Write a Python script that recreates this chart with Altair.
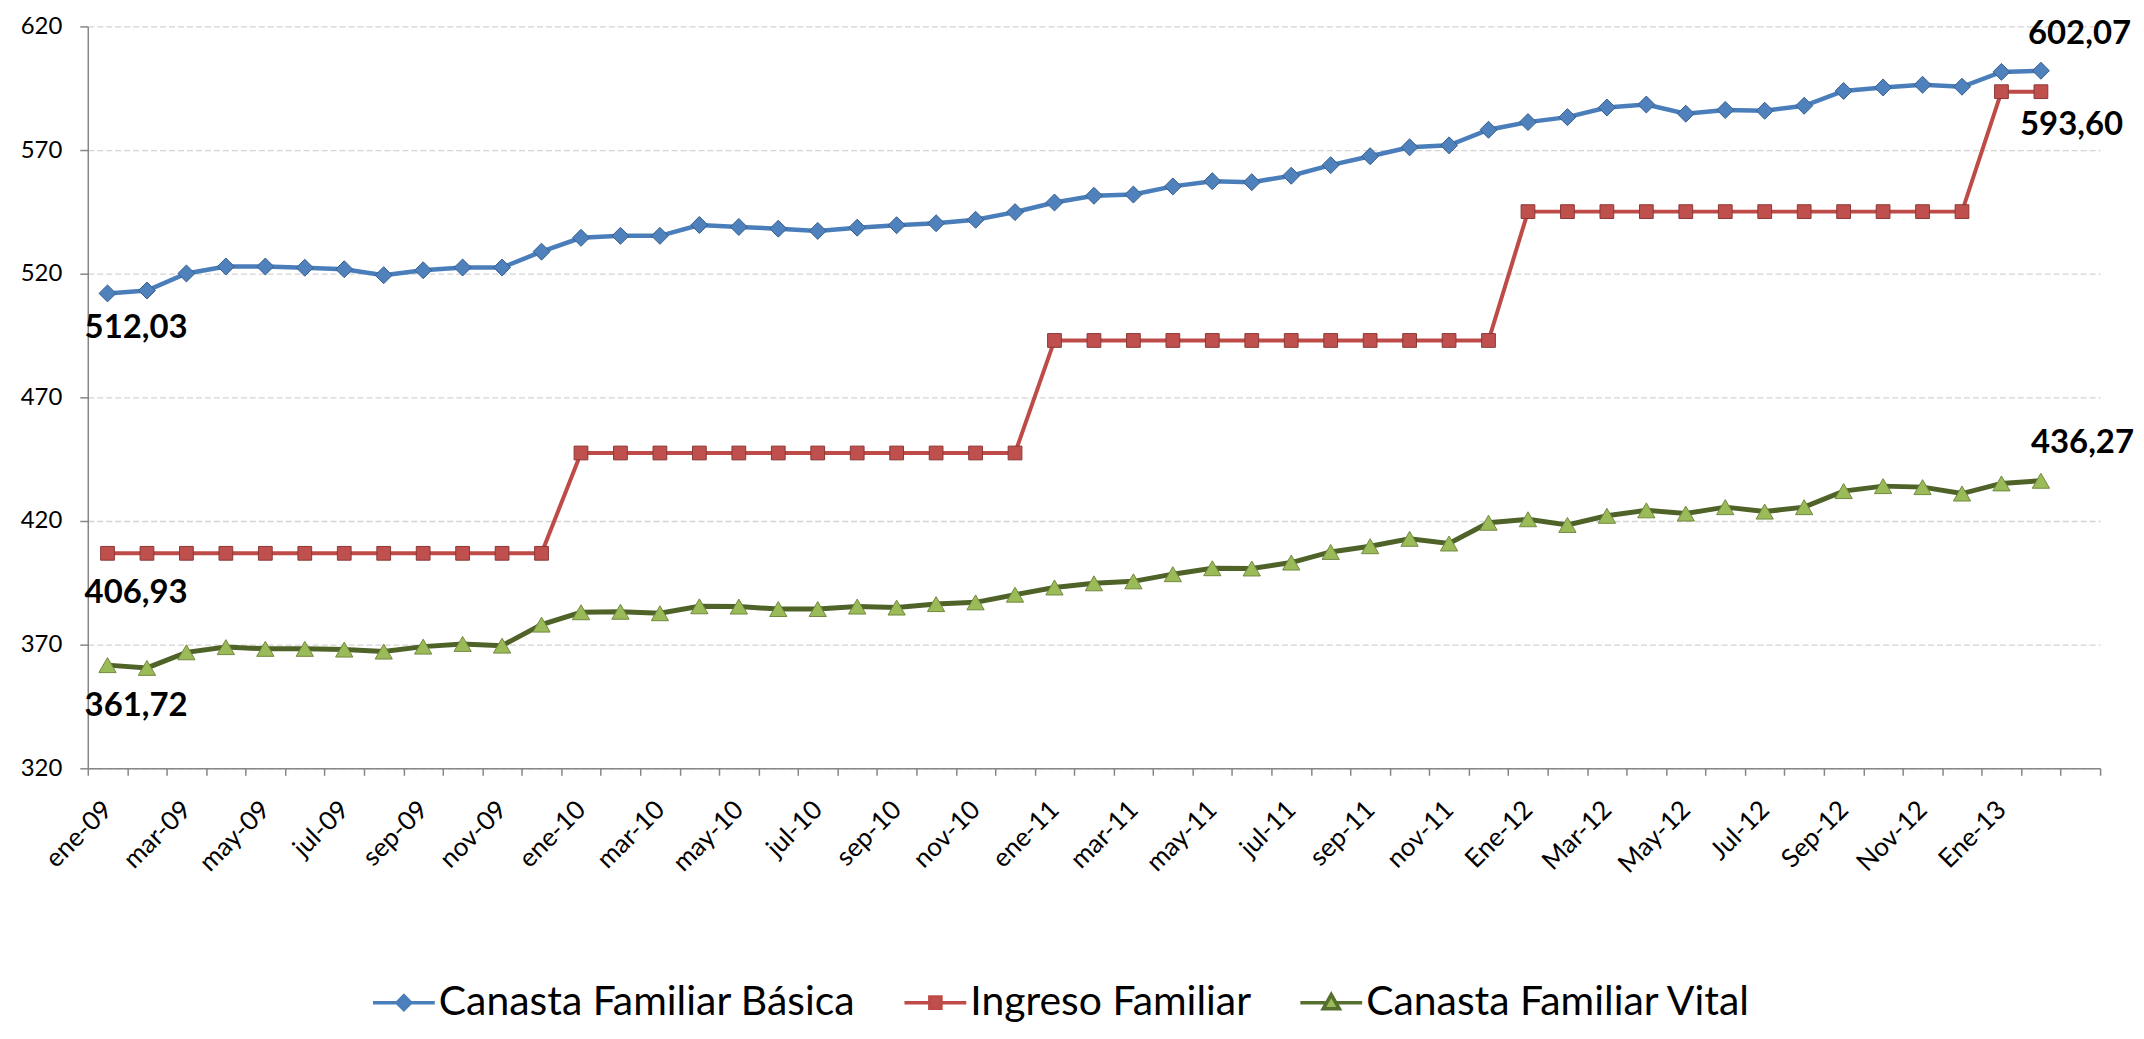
import json
import altair as alt
import pandas as pd

# ---------------- data ----------------
meses = [
    "ene-09", "feb-09", "mar-09", "abr-09", "may-09", "jun-09", "jul-09", "ago-09", "sep-09", "oct-09", "nov-09", "dic-09",
    "ene-10", "feb-10", "mar-10", "abr-10", "may-10", "jun-10", "jul-10", "ago-10", "sep-10", "oct-10", "nov-10", "dic-10",
    "ene-11", "feb-11", "mar-11", "abr-11", "may-11", "jun-11", "jul-11", "ago-11", "sep-11", "oct-11", "nov-11", "dic-11",
    "Ene-12", "Feb-12", "Mar-12", "Abr-12", "May-12", "Jun-12", "Jul-12", "Ago-12", "Sep-12", "Oct-12", "Nov-12", "Dic-12",
    "Ene-13", "Feb-13",
]
categorias = meses + [" "]
etiquetas_eje = [
    "ene-09", "mar-09", "may-09", "jul-09", "sep-09", "nov-09",
    "ene-10", "mar-10", "may-10", "jul-10", "sep-10", "nov-10",
    "ene-11", "mar-11", "may-11", "jul-11", "sep-11", "nov-11",
    "Ene-12", "Mar-12", "May-12", "Jul-12", "Sep-12", "Nov-12", "Ene-13",
]
series = ["Canasta Familiar Básica", "Ingreso Familiar", "Canasta Familiar Vital"]

basica = [
    512.03, 513.2, 520.1, 522.9, 522.9, 522.4, 521.8, 519.4, 521.4, 522.5, 522.5, 528.9,
    534.5, 535.3, 535.3, 539.7, 538.9, 538.2, 537.3, 538.6, 539.6, 540.4, 541.8, 544.9,
    548.8, 551.5, 552.0, 555.3, 557.4, 557.0, 559.6, 563.9, 567.5, 571.1, 571.9, 578.2,
    581.3, 583.3, 587.2, 588.4, 584.7, 586.2, 585.9, 587.9, 593.9, 595.3, 596.4, 595.6,
    601.6, 602.07,
]
ingreso = [
    406.93, 406.93, 406.93, 406.93, 406.93, 406.93, 406.93, 406.93, 406.93, 406.93, 406.93, 406.93,
    447.5, 447.5, 447.5, 447.5, 447.5, 447.5, 447.5, 447.5, 447.5, 447.5, 447.5, 447.5,
    493.0, 493.0, 493.0, 493.0, 493.0, 493.0, 493.0, 493.0, 493.0, 493.0, 493.0, 493.0,
    545.1, 545.1, 545.1, 545.1, 545.1, 545.1, 545.1, 545.1, 545.1, 545.1, 545.1, 545.1,
    593.60, 593.60,
]
vital = [
    361.72, 360.6, 366.9, 369.0, 368.3, 368.3, 368.0, 367.2, 369.2, 370.3, 369.6, 378.1,
    383.1, 383.3, 382.7, 385.5, 385.4, 384.4, 384.4, 385.4, 385.0, 386.4, 387.1, 390.2,
    393.1, 394.8, 395.6, 398.5, 400.9, 400.8, 403.2, 407.5, 409.8, 412.8, 410.9, 419.3,
    420.7, 418.4, 422.1, 424.3, 423.0, 425.6, 423.8, 425.6, 432.1, 434.1, 433.7, 431.1,
    435.2, 436.27,
]
y_ticks = [320, 370, 420, 470, 520, 570, 620]

# ---------------- styles ----------------
line_colors = ["#4A7EBB", "#BE4B48", "#4F6228"]
fill_colors = ["#4F81BD", "#C0504D", "#9BBB59"]
edge_colors = ["#385D8A", "#8C3836", "#71893F"]
legend_stroke = ["#4A7EBB", "#BE4B48", "#56702E"]
shapes = ["diamond", "square", "triangle-up"]
sizes = [289, 190, 300]
line_widths = [4.5, 4, 5]
legend_paths = [
    "M-1,0H-0.22M0.22,0H1M0,-0.22L0.22,0L0,0.22L-0.22,0Z",
    "M-1,0H-0.18M0.18,0H1M-0.18,-0.18H0.18V0.18H-0.18Z",
    "M-1,0H-0.14M0.14,0H1M0,-0.26L0.26,0.2L-0.26,0.2Z",
]
FONT = "Lato"

rows = []
for s, vals in zip(series, [basica, ingreso, vital]):
    for i, (m, v) in enumerate(zip(meses, vals)):
        rows.append({"serie": s, "mes": m, "idx": i, "valor": v,
                     "etiqueta": f"{v:.2f}".replace(".", ",")})
df = pd.DataFrame(rows)

label_expr = "indexof(" + json.dumps(etiquetas_eje) + ", datum.value) >= 0 ? datum.value : ''"

x_enc = alt.X(
    "mes:O",
    sort=categorias,
    scale=alt.Scale(type="band", domain=categorias, paddingInner=0, paddingOuter=0),
    bandPosition=0.5,
    axis=alt.Axis(
        title=None, tickBand="extent", tickSize=7, tickColor="#868686", tickWidth=1.5,
        domainColor="#868686", domainWidth=1.5, labelAngle=315, labelAlign="right",
        labelBaseline="middle", labelPadding=30, labelFont=FONT, labelFontSize=26,
        labelColor="#000000", labelExpr=label_expr, grid=False,
    ),
)
y_enc = alt.Y(
    "valor:Q",
    scale=alt.Scale(domain=[320, 620], nice=False, zero=False),
    axis=alt.Axis(
        title=None, values=y_ticks, grid=True, gridColor="#D4D4D4", gridDash=[6, 3],
        gridWidth=1.3, tickSize=8, tickColor="#868686", tickWidth=1.5,
        domainColor="#868686", domainWidth=1.5, labelFont=FONT, labelFontSize=24,
        labelColor="#000000", labelPadding=18,
    ),
)

base = alt.Chart(df)
layers = []
for k, s in enumerate(series):
    layers.append(
        base.transform_filter(alt.datum.serie == s)
        .mark_line(color=line_colors[k], strokeWidth=line_widths[k])
        .encode(x=x_enc, y=y_enc, order=alt.Order("idx:Q"))
    )
for k, s in enumerate(series):
    layers.append(
        base.transform_filter(alt.datum.serie == s)
        .mark_point(shape=shapes[k], filled=True, size=sizes[k], fill=fill_colors[k],
                    stroke=edge_colors[k], strokeWidth=1, opacity=1)
        .encode(x=x_enc, y=y_enc)
    )

# data labels at first and last points: (serie, idx, dx, dy)
label_specs = [
    (series[0], 0, -23, 35),
    (series[1], 0, -23, 40),
    (series[2], 0, -23, 41),
    (series[0], 49, -13, -37),
    (series[1], 49, -21, 33),
    (series[2], 49, -10, -38),
]
for s, i, dx, dy in label_specs:
    layers.append(
        base.transform_filter((alt.datum.serie == s) & (alt.datum.idx == i))
        .mark_text(align="left", baseline="middle", dx=dx, dy=dy, font=FONT,
                   fontSize=33, fontWeight="bold", color="#000000")
        .encode(x=x_enc, y=y_enc, text="etiqueta:N")
    )

leg = alt.Legend(
    title=None, orient="none", legendX=284, legendY=946, direction="horizontal",
    columns=3, labelFont=FONT, labelFontSize=41, labelColor="#000000",
    symbolSize=3844, symbolStrokeWidth=3.5, symbolOpacity=1, labelOffset=2,
    columnPadding=42, labelLimit=0,
)
layers.append(
    base.mark_point(filled=True, opacity=0, size=10).encode(
        x=x_enc, y=y_enc,
        fill=alt.Fill("serie:N", scale=alt.Scale(domain=series, range=fill_colors), legend=leg),
        stroke=alt.Stroke("serie:N", scale=alt.Scale(domain=series, range=legend_stroke), legend=leg),
        shape=alt.Shape("serie:N", scale=alt.Scale(domain=series, range=legend_paths), legend=leg),
    )
)

chart = (
    alt.layer(*layers)
    .properties(
        width=2018, height=744,
        autosize=alt.AutoSizeParams(type="none"),
        padding={"left": 80, "top": 17, "right": 36, "bottom": 262},
        background="#FFFFFF",
    )
    .configure_view(strokeWidth=0)
)

chart.save("out.html", embed_options={"renderer": "svg", "actions": False})
